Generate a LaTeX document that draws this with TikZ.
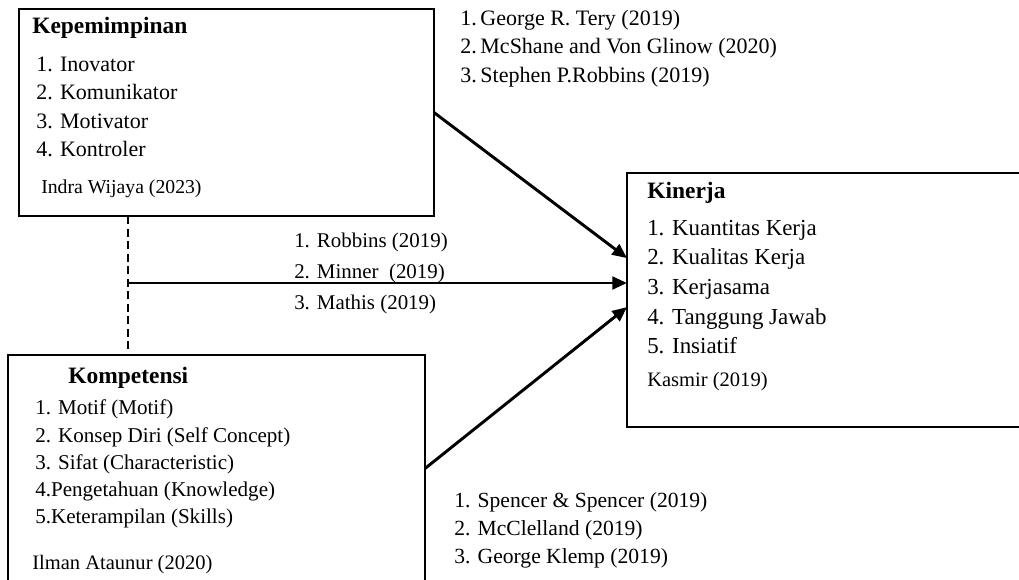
\documentclass[tikz,border=0pt]{standalone}
\usepackage{fontspec}
\setmainfont{Liberation Serif}
\usetikzlibrary{arrows.meta, calc, fit}

\begin{document}
\begin{tikzpicture}[
    x=0.75pt, y=-0.75pt,
    box/.style={draw, line width=2pt, inner sep=0pt, outer sep=0pt},
    ttl/.style={anchor=base west, inner sep=0pt, font=\fontsize{17.6}{20}\selectfont\bfseries},
    itm/.style={anchor=base west, inner sep=0pt, font=\fontsize{16.5}{20}\selectfont},
    src/.style={anchor=base west, inner sep=0pt, font=\fontsize{14.8}{18}\selectfont},
    arr/.style={-{Triangle[length=11pt, width=9.5pt]}, line width=2.2pt},
    link/.style={line width=2.2pt, dash pattern=on 6pt off 3.4pt}
  ]
    \useasboundingbox (0,0) rectangle (1019,579);
    \clip (0,0) rectangle (1019,579);
    \fill[white] (0,0) rectangle (1019,579);

    % boxes
    \node[box, fit={(19,9) (434,216)}] (lead) {};
    \node[box, fit={(627,173) (1030,427)}] (perf) {};
    \node[box, fit={(8,355) (425,582)}] (comp) {};

    % Kepemimpinan
    \node[ttl] (leadT) at (32,33) {Kepemimpinan};
    \node[itm] (lead1) at (36,71) {1. Inovator};
    \node[itm] (lead2) at (36,99) {2. Komunikator};
    \node[itm] (lead3) at (36,128) {3. Motivator};
    \node[itm] (lead4) at (36,156) {4. Kontroler};
    \node[src] (leadS) at (41,193) {Indra Wijaya (2023)};

    % Kinerja
    \node[ttl] (perfT) at (647,198) {Kinerja};
    \node[itm, font=\fontsize{17.2}{20}\selectfont] (perf1) at (647,235) {1. Kuantitas Kerja};
    \node[itm, font=\fontsize{17.2}{20}\selectfont] (perf2) at (647,264) {2. Kualitas Kerja};
    \node[itm, font=\fontsize{17.2}{20}\selectfont] (perf3) at (647,294) {3. Kerjasama};
    \node[itm, font=\fontsize{17.2}{20}\selectfont] (perf4) at (647,324) {4. Tanggung Jawab};
    \node[itm, font=\fontsize{17.2}{20}\selectfont] (perf5) at (647,353) {5. Insiatif};
    \node[src, font=\fontsize{15.4}{18}\selectfont] (perfS) at (647,386) {Kasmir (2019)};

    % Kompetensi
    \node[ttl] (compT) at (68,383) {Kompetensi};
    \node[itm, font=\fontsize{15.8}{20}\selectfont] (comp1) at (35,414) {1. Motif (Motif)};
    \node[itm, font=\fontsize{15.8}{20}\selectfont] (comp2) at (35,442) {2. Konsep Diri (Self Concept)};
    \node[itm, font=\fontsize{15.8}{20}\selectfont] (comp3) at (35,469) {3. Sifat (Characteristic)};
    \node[itm, font=\fontsize{15.8}{20}\selectfont] (comp4) at (35,496) {4.Pengetahuan (Knowledge)};
    \node[itm, font=\fontsize{15.8}{20}\selectfont] (comp5) at (35,523) {5.Keterampilan (Skills)};
    \node[src, font=\fontsize{15.4}{18}\selectfont] (compS) at (32,569) {Ilman Ataunur (2020)};

    % sources on the paths
    \node[itm] (ref1) at (460,25) {1.\,George R. Tery (2019)};
    \node[itm] (ref2) at (460,53) {2.\,McShane and Von Glinow (2020)};
    \node[itm] (ref3) at (460,82) {3.\,Stephen P.Robbins (2019)};
    \node[itm, font=\fontsize{15.7}{20}\selectfont] (ref4) at (294,247) {1. Robbins (2019)};
    \node[itm, font=\fontsize{15.7}{20}\selectfont] (ref5) at (294,278) {2. Minner\ \ (2019)};
    \node[itm, font=\fontsize{15.7}{20}\selectfont] (ref6) at (294,309) {3. Mathis (2019)};
    \node[itm, font=\fontsize{16.2}{20}\selectfont] (ref7) at (454,507) {1. Spencer \& Spencer (2019)};
    \node[itm, font=\fontsize{16.2}{20}\selectfont] (ref8) at (454,535) {2. McClelland (2019)};
    \node[itm, font=\fontsize{16.2}{20}\selectfont] (ref9) at (454,563) {3. George Klemp (2019)};

    % connectors
    \coordinate (j) at (128,283);
    \draw[link] (lead.south -| j) -- (comp.north -| j);
    \draw[arr] (lead.east) -- ($(perf.north west)!0.335!(perf.south west)$);
    \draw[arr] (j) -- (perf.west |- j);
    \draw[arr] (comp.east) -- ($(perf.north west)!0.528!(perf.south west)$);
\end{tikzpicture}
\end{document}
